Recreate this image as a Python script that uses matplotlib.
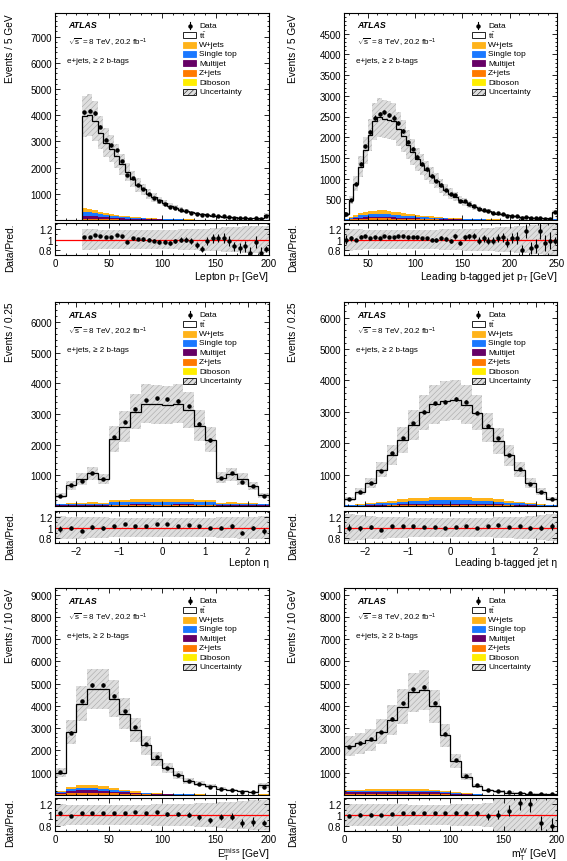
import numpy as np
import matplotlib
matplotlib.use("Agg")
import matplotlib.pyplot as plt
from matplotlib.ticker import AutoMinorLocator
from matplotlib.patches import Rectangle

plt.rcParams["font.family"] = ["Liberation Sans", "DejaVu Sans"]
plt.rcParams["mathtext.fontset"] = "custom"
plt.rcParams["mathtext.rm"] = "Liberation Sans"
plt.rcParams["mathtext.it"] = "Liberation Sans:italic"
plt.rcParams["mathtext.bf"] = "Liberation Sans:bold"
plt.rcParams["hatch.linewidth"] = 0.35
plt.rcParams["hatch.color"] = "#a0a0a0"
plt.rcParams["axes.linewidth"] = 0.8

W, H = 567, 862

# background stack, bottom to top
bkg_names = ["Diboson", "Z+jets", "Multijet", "Single top", "W+jets"]
bkg_colors = ["#ffee00", "#ff7a00", "#660066", "#1a78ff", "#ffb31a"]
legend_order = ["W+jets", "Single top", "Multijet", "Z+jets", "Diboson"]

# --- Lepton pT ---
lep_pt_edges = np.arange(25, 205, 5)
lep_pt_mc = [3950, 4010, 3780, 3330, 2950, 2720, 2450, 2120, 1820, 1560,
             1340, 1170, 1010, 870, 750, 640, 550, 470, 400, 345,
             295, 255, 220, 195, 170, 150, 132, 117, 104, 92,
             82, 73, 65, 58, 200]
lep_pt_ratio = [1.04, 1.04, 1.08, 1.07, 1.04, 1.05, 1.09, 1.06, 0.95, 1.02,
                1.01, 1.01, 1.0, 0.98, 0.95, 0.95, 0.93, 0.97, 1.0, 1.0,
                0.97, 0.89, 0.82, 0.97, 1.02, 1.03, 1.03, 0.97, 0.87, 0.84,
                0.87, 0.75, 0.95, 0.75, 0.82]
lep_pt_bkg = [450, 430, 380, 320, 270, 235, 200, 170, 145, 122,
              104, 90, 77, 66, 56, 48, 41, 35, 30, 26,
              22, 19, 17, 15, 13, 12, 11, 10, 9, 8,
              7, 6, 6, 5, 18]
lep_pt_frac = [0.02, 0.08, 0.27, 0.30, 0.33]
lep_pt_unc = [0.2, 0.2, 0.2, 0.19, 0.19, 0.19, 0.19, 0.19, 0.19, 0.19,
              0.19, 0.19, 0.19, 0.19, 0.19, 0.19, 0.19, 0.19, 0.2, 0.2,
              0.2, 0.2, 0.21, 0.21, 0.22, 0.22, 0.23, 0.23, 0.24, 0.24,
              0.25, 0.25, 0.26, 0.26, 0.26]

# --- Leading b-tagged jet pT ---
bjet_pt_edges = np.arange(25, 255, 5)
bjet_pt_mc = [137, 480, 880, 1290, 1680, 2060, 2380, 2480, 2440, 2420,
              2380, 2200, 2020, 1820, 1640, 1470, 1330, 1200, 1070, 950,
              830, 720, 640, 560, 490, 430, 370, 320, 280, 240,
              210, 180, 155, 135, 115, 100, 87, 75, 65, 57,
              50, 44, 38, 34, 190]
bjet_pt_ratio = [1.0, 1.02, 1.0, 1.05, 1.06, 1.03, 1.04, 1.03, 1.07, 1.05,
                 1.04, 1.06, 1.06, 1.04, 1.05, 1.04, 1.02, 1.02, 1.0, 0.99,
                 1.03, 1.01, 0.98, 1.06, 0.93, 1.04, 1.06, 1.06, 0.98, 1.02,
                 0.98, 0.98, 1.03, 1.04, 0.94, 1.03, 1.03, 0.8, 1.17, 0.84,
                 0.87, 1.17, 0.93, 0.98, 0.98]
bjet_pt_bkg = [30, 80, 130, 170, 200, 215, 225, 235, 230, 220,
               200, 185, 165, 150, 135, 120, 108, 96, 85, 75,
               66, 58, 51, 45, 40, 35, 31, 27, 24, 21,
               18, 16, 14, 12, 10, 9, 8, 7, 6, 6,
               5, 5, 4, 4, 20]
bjet_pt_frac = [0.02, 0.15, 0.15, 0.33, 0.35]
bjet_pt_unc = [0.22, 0.21, 0.2, 0.2, 0.19, 0.19, 0.19, 0.19, 0.19, 0.19,
               0.19, 0.19, 0.19, 0.19, 0.19, 0.19, 0.19, 0.19, 0.19, 0.19,
               0.2, 0.2, 0.2, 0.2, 0.2, 0.21, 0.21, 0.21, 0.21, 0.22,
               0.22, 0.22, 0.23, 0.23, 0.24, 0.24, 0.25, 0.26, 0.26, 0.27,
               0.28, 0.28, 0.29, 0.3, 0.3]

# --- Lepton eta ---
lep_eta_edges = np.arange(-2.5, 2.75, 0.25)
lep_eta_mc = [340, 680, 880, 1060, 880, 2180, 2590, 3080, 3340, 3310,
              3280, 3330, 3120, 2620, 2160, 920, 1030, 880, 650, 350]
lep_eta_ratio = [0.97, 0.99, 0.94, 1.01, 0.99, 1.03, 1.06, 1.03, 1.03, 1.06,
                 1.06, 1.03, 1.04, 1.02, 0.99, 1.0, 1.03, 0.9, 0.99, 0.93]
lep_eta_bkg = [80, 90, 110, 120, 100, 190, 210, 230, 230, 220,
               220, 230, 230, 210, 190, 100, 120, 110, 90, 80]
lep_eta_frac = [0.02, 0.08, 0.12, 0.40, 0.38]
lep_eta_unc = [0.22, 0.21, 0.21, 0.2, 0.2, 0.19, 0.19, 0.19, 0.19, 0.19,
               0.19, 0.19, 0.19, 0.19, 0.19, 0.2, 0.2, 0.21, 0.21, 0.22]

# --- Leading b-tagged jet eta ---
bjet_eta_edges = np.arange(-2.5, 2.75, 0.25)
bjet_eta_mc = [230, 450, 740, 1160, 1630, 2100, 2580, 2980, 3240, 3360,
               3380, 3230, 2970, 2500, 2070, 1610, 1160, 720, 450, 220]
bjet_eta_ratio = [1.0, 0.99, 1.01, 0.96, 1.03, 1.03, 1.02, 1.01, 1.01, 0.99,
                  1.01, 1.03, 1.0, 1.02, 1.04, 1.01, 1.02, 0.99, 1.0, 1.02]
bjet_eta_bkg = [40, 60, 90, 130, 170, 210, 240, 270, 290, 300,
                300, 290, 270, 240, 210, 170, 130, 90, 60, 40]
bjet_eta_frac = [0.02, 0.10, 0.12, 0.40, 0.36]
bjet_eta_unc = [0.26, 0.24, 0.22, 0.21, 0.2, 0.2, 0.19, 0.19, 0.19, 0.19,
                0.19, 0.19, 0.19, 0.19, 0.2, 0.2, 0.21, 0.22, 0.24, 0.26]

# --- ETmiss ---
met_edges = np.arange(0, 210, 10)
met_mc = [1000, 2830, 4100, 4750, 4750, 4330, 3650, 2920, 2230, 1620,
          1210, 880, 640, 500, 390, 280, 210, 170, 140, 430]
met_ratio = [1.03, 0.99, 1.03, 1.04, 1.04, 1.03, 1.03, 1.05, 1.03, 1.05,
             1.02, 1.02, 1.01, 0.96, 0.9, 0.96, 0.97, 0.85, 0.88, 0.86]
met_bkg = [170, 380, 430, 440, 400, 320, 230, 160, 110, 80,
           60, 45, 35, 28, 22, 18, 15, 12, 10, 30]
met_frac = [0.02, 0.22, 0.25, 0.21, 0.30]
met_unc = [0.2, 0.19, 0.19, 0.19, 0.19, 0.19, 0.19, 0.19, 0.19, 0.2,
           0.2, 0.2, 0.21, 0.22, 0.23, 0.24, 0.25, 0.26, 0.27, 0.27]

# --- mT(W) ---
mtw_edges = np.arange(0, 210, 10)
mtw_mc = [2200, 2320, 2480, 2840, 3360, 3970, 4620, 4720, 3980, 2680,
          1530, 820, 420, 230, 160, 110, 85, 65, 50, 40]
mtw_ratio = [0.98, 1.01, 1.01, 1.0, 1.02, 1.04, 1.03, 1.03, 1.04, 1.03,
             1.04, 1.03, 1.03, 0.98, 1.01, 1.08, 1.22, 1.2, 0.85, 0.8]
mtw_bkg = [230, 240, 250, 260, 270, 280, 280, 270, 230, 180,
           120, 70, 40, 22, 13, 8, 5, 4, 3, 2]
mtw_frac = [0.02, 0.15, 0.33, 0.22, 0.28]
mtw_unc = [0.2, 0.2, 0.2, 0.2, 0.2, 0.2, 0.19, 0.19, 0.19, 0.19,
           0.2, 0.2, 0.21, 0.22, 0.45, 0.45, 0.45, 0.45, 0.45, 0.45]

# pixel layout: columns (left, right), rows (main top, main bottom, ratio top, ratio bottom)
columns = [(55, 269), (344, 557)]
rows = [(14, 221, 224, 256), (303, 507, 512, 544), (589, 796, 799, 832)]
ylabel_dx = [-40, -46]

panels = [
    dict(col=0, row=0, edges=lep_pt_edges, mc=lep_pt_mc, ratio=lep_pt_ratio, bkg=lep_pt_bkg,
         frac=lep_pt_frac, unc=lep_pt_unc, xlim=(0, 200), xticks=[0, 50, 100, 150, 200],
         ymax=7900, yticks=list(range(1000, 8000, 1000)),
         xlabel=r"Lepton p$_{\mathrm{T}}$ [GeV]", ylabel="Events / 5 GeV"),
    dict(col=1, row=0, edges=bjet_pt_edges, mc=bjet_pt_mc, ratio=bjet_pt_ratio, bkg=bjet_pt_bkg,
         frac=bjet_pt_frac, unc=bjet_pt_unc, xlim=(25, 250), xticks=[50, 100, 150, 200, 250],
         ymax=5000, yticks=list(range(500, 5000, 500)),
         xlabel=r"Leading b-tagged jet p$_{\mathrm{T}}$ [GeV]", ylabel="Events / 5 GeV"),
    dict(col=0, row=1, edges=lep_eta_edges, mc=lep_eta_mc, ratio=lep_eta_ratio, bkg=lep_eta_bkg,
         frac=lep_eta_frac, unc=lep_eta_unc, xlim=(-2.5, 2.5), xticks=[-2, -1, 0, 1, 2],
         ymax=6650, yticks=list(range(1000, 7000, 1000)),
         xlabel="Lepton η", ylabel="Events / 0.25"),
    dict(col=1, row=1, edges=bjet_eta_edges, mc=bjet_eta_mc, ratio=bjet_eta_ratio, bkg=bjet_eta_bkg,
         frac=bjet_eta_frac, unc=bjet_eta_unc, xlim=(-2.5, 2.5), xticks=[-2, -1, 0, 1, 2],
         ymax=6500, yticks=list(range(1000, 7000, 1000)),
         xlabel="Leading b-tagged jet η", ylabel="Events / 0.25"),
    dict(col=0, row=2, edges=met_edges, mc=met_mc, ratio=met_ratio, bkg=met_bkg,
         frac=met_frac, unc=met_unc, xlim=(0, 200), xticks=[0, 50, 100, 150, 200],
         ymax=9300, yticks=list(range(1000, 10000, 1000)),
         xlabel=r"E$_{\mathrm{T}}^{\mathrm{miss}}$ [GeV]", ylabel="Events / 10 GeV"),
    dict(col=1, row=2, edges=mtw_edges, mc=mtw_mc, ratio=mtw_ratio, bkg=mtw_bkg,
         frac=mtw_frac, unc=mtw_unc, xlim=(0, 200), xticks=[0, 50, 100, 150, 200],
         ymax=9300, yticks=list(range(1000, 10000, 1000)),
         xlabel=r"m$_{\mathrm{T}}^{\mathrm{W}}$ [GeV]", ylabel="Events / 10 GeV"),
]

band_face = "#dedede"
band_hatch = "#a0a0a0"


def style_axis(a):
    a.xaxis.set_minor_locator(AutoMinorLocator(5))
    a.tick_params(which="both", direction="in", top=True, right=True, labelsize=7, pad=2)
    a.tick_params(which="major", length=3.3, width=0.6)
    a.tick_params(which="minor", length=1.7, width=0.6)


def draw_legend(ax, wpx, hpx):
    x_box, bw, bh = 128, 13, 6
    x_txt = 144
    y0, dy = 12.7, 9.4

    def fx(px):
        return px / wpx

    def fy(py):
        return 1 - py / hpx

    labels = ["Data", r"$\mathrm{t\bar{t}}$"] + legend_order + ["Uncertainty"]
    for i, lab in enumerate(labels):
        yc = y0 + i * dy
        if lab == "Data":
            xc = x_box + bw / 2
            ax.plot([fx(xc)], [fy(yc)], "o", color="black", ms=2.2,
                    transform=ax.transAxes, clip_on=False)
            ax.plot([fx(xc), fx(xc)], [fy(yc - 3.5), fy(yc + 3.5)], color="black",
                    lw=0.8, transform=ax.transAxes, clip_on=False)
        else:
            if lab == "Uncertainty":
                face, edge, hatch = band_face, "black", "//////"
            elif lab in legend_order:
                face = bkg_colors[bkg_names.index(lab)]
                edge, hatch = face, None
            else:
                face, edge, hatch = "white", "black", None
            r = Rectangle((fx(x_box), fy(yc + bh / 2)), bw / wpx, bh / hpx,
                          facecolor=face, edgecolor=edge, lw=0.6, hatch=hatch,
                          transform=ax.transAxes, clip_on=False, zorder=5)
            ax.add_patch(r)
        ax.text(fx(x_txt), fy(yc), lab, fontsize=6, va="center", ha="left",
                transform=ax.transAxes)


def draw_panel(fig, p):
    left, right = columns[p["col"]]
    top, bottom, rtop, rbottom = rows[p["row"]]
    wpx = right - left
    hpx = bottom - top
    rhpx = rbottom - rtop
    ax = fig.add_axes([left / W, 1 - bottom / H, wpx / W, hpx / H])
    rax = fig.add_axes([left / W, 1 - rbottom / H, wpx / W, rhpx / H])

    edges = np.asarray(p["edges"], float)
    mc = np.asarray(p["mc"], float)
    ratio = np.asarray(p["ratio"], float)
    bkg = np.asarray(p["bkg"], float)
    unc = np.asarray(p["unc"], float)
    centers = 0.5 * (edges[1:] + edges[:-1])
    widths = np.diff(edges)
    data = mc * ratio
    err = np.sqrt(data)

    # stacked backgrounds
    base = np.zeros_like(mc)
    for f, c in zip(p["frac"], bkg_colors):
        comp = bkg * f
        ax.stairs(base + comp, edges, baseline=base, fill=True, color=c, lw=0, zorder=1)
        base = base + comp
    ax.stairs(mc, edges, baseline=base, fill=True, color="white", lw=0, zorder=1)
    ax.bar(centers, 2 * unc * mc, bottom=mc * (1 - unc), width=widths, color=band_face,
           edgecolor=band_hatch, hatch="//////", lw=0, zorder=2)
    ax.stairs(mc, edges, baseline=0, color="black", lw=0.9, zorder=3)
    ax.errorbar(centers, data, yerr=err, fmt="o", color="black", ms=2.2,
                elinewidth=0.8, capsize=0, zorder=4)

    ax.set_xlim(p["xlim"])
    ax.set_ylim(0, p["ymax"])
    ax.set_xticks(p["xticks"])
    ax.set_yticks(p["yticks"])
    ax.yaxis.set_minor_locator(AutoMinorLocator(5))
    style_axis(ax)
    ax.tick_params(labelbottom=False)
    ax.set_ylabel(p["ylabel"], fontsize=7.3, loc="top")
    ax.yaxis.set_label_coords(ylabel_dx[p["col"]] / wpx, 1)

    ax.text(13 / wpx, 1 - 12 / hpx, "ATLAS", fontsize=6.3, fontweight="bold",
            fontstyle="italic", va="center", transform=ax.transAxes)
    ax.text(13 / wpx, 1 - 29 / hpx, r"$\sqrt{\mathrm{s}}$ = 8 TeV, 20.2 fb$^{-1}$", fontsize=5.8,
            va="center", transform=ax.transAxes)
    ax.text(12 / wpx, 1 - 48 / hpx, "e+jets, ≥ 2 b-tags", fontsize=5.8,
            va="center", transform=ax.transAxes)
    draw_legend(ax, wpx, hpx)

    # ratio panel
    rax.bar(centers, 2 * unc, bottom=1 - unc, width=widths, color=band_face,
            edgecolor=band_hatch, hatch="//////", lw=0, zorder=1)
    rax.axhline(1, color="red", lw=0.9, zorder=2)
    rax.errorbar(centers, ratio, yerr=err / mc, fmt="o", color="black", ms=2.2,
                 elinewidth=0.8, capsize=0, zorder=3)
    rax.set_xlim(p["xlim"])
    rax.set_ylim(0.705, 1.315)
    rax.set_xticks(p["xticks"])
    rax.set_yticks([0.8, 1.0, 1.2], ["0.8", "1", "1.2"])
    rax.yaxis.set_minor_locator(AutoMinorLocator(2))
    style_axis(rax)
    rax.set_ylabel("Data/Pred.", fontsize=7.3, loc="top")
    rax.yaxis.set_label_coords(ylabel_dx[p["col"]] / wpx, 1)
    rax.set_xlabel(p["xlabel"], fontsize=7.4, loc="right")
    rax.xaxis.set_label_coords(1, -14 / rhpx)


fig = plt.figure(figsize=(W / 100, H / 100), dpi=100)
for p in panels:
    draw_panel(fig, p)
fig.savefig("out.png", dpi=100)
